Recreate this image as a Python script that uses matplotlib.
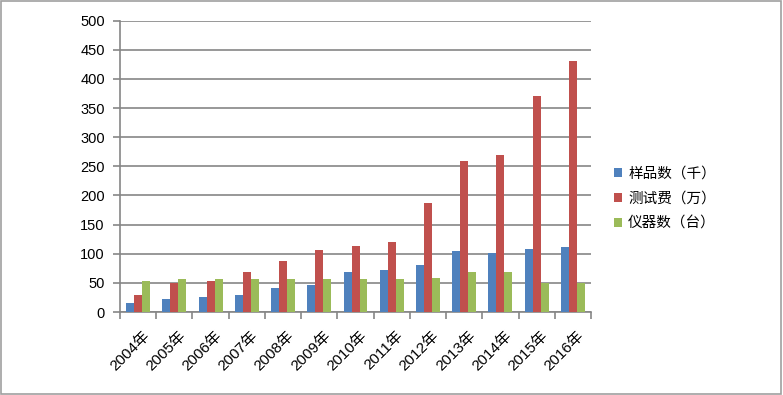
import numpy as np
import matplotlib.pyplot as plt
import matplotlib.transforms as mtransforms
from matplotlib.patches import Rectangle

plt.rcParams['font.family'] = ['Liberation Sans', 'Noto Sans CJK SC', 'DejaVu Sans']

# data
years = ['2004年', '2005年', '2006年', '2007年', '2008年', '2009年', '2010年',
         '2011年', '2012年', '2013年', '2014年', '2015年', '2016年']
samples = [15, 23, 26, 29, 42, 46, 69, 72, 81, 104, 101, 108, 112]   # 样品数（千）
fees = [30, 50, 53, 68, 88, 106, 114, 120, 187, 260, 270, 370, 430]  # 测试费（万）
instruments = [54, 56, 56, 56, 56, 56, 56, 56, 58, 69, 69, 49, 49]  # 仪器数（台）
series_names = ['样品数（千）', '测试费（万）', '仪器数（台）']
colors = ['#4F81BD', '#C0504D', '#9BBB59']

fig = plt.figure(figsize=(7.83, 3.95), dpi=100)
ax = fig.add_axes([0.1533, 0.2101, 0.6015, 0.7375])

x = np.arange(len(years))
w = 0.22
for i, (vals, name, c) in enumerate(zip([samples, fees, instruments], series_names, colors)):
    ax.bar(x + (i - 1) * w, vals, width=w, color=c, label=name, zorder=3)

ax.set_xlim(-0.5, len(years) - 0.5)
ax.set_ylim(0, 500)
ax.set_yticks(range(0, 501, 50))
ax.yaxis.grid(True, color='#868686', linewidth=1.2, zorder=0)

for s in ['top', 'right']:
    ax.spines[s].set_visible(False)
for s in ['left', 'bottom']:
    ax.spines[s].set_color('#868686')
    ax.spines[s].set_linewidth(1.2)

ax.set_xticks(x)
ax.set_xticklabels(years, rotation=45, ha='right', rotation_mode='anchor', fontsize=11)
ax.set_xticks(np.arange(-0.5, len(years)), minor=True)
ax.tick_params(axis='x', which='major', length=0, pad=12)
ax.tick_params(axis='x', which='minor', length=5, color='#868686', width=1.2)
ax.tick_params(axis='y', length=5, color='#868686', width=1.2, labelsize=10.5, pad=6)

# nudge the slanted year labels a little to the right, like the original
shift = mtransforms.ScaledTranslation(4 / 100, 0, fig.dpi_scale_trans)
for lbl in ax.get_xticklabels():
    lbl.set_transform(lbl.get_transform() + shift)

leg = ax.legend(loc='center left', bbox_to_anchor=(1.02, 0.39), frameon=False,
                handlelength=0.6, handleheight=0.6, handletextpad=0.4,
                labelspacing=0.75,
                prop={'family': ['Noto Sans CJK SC'], 'size': 10.5})

fig.patches.append(Rectangle((0.001, 0.002), 0.997, 0.995, transform=fig.transFigure,
                             fill=False, edgecolor='#a0a0a0', linewidth=1.2))

fig.savefig('out.png', dpi=100)
